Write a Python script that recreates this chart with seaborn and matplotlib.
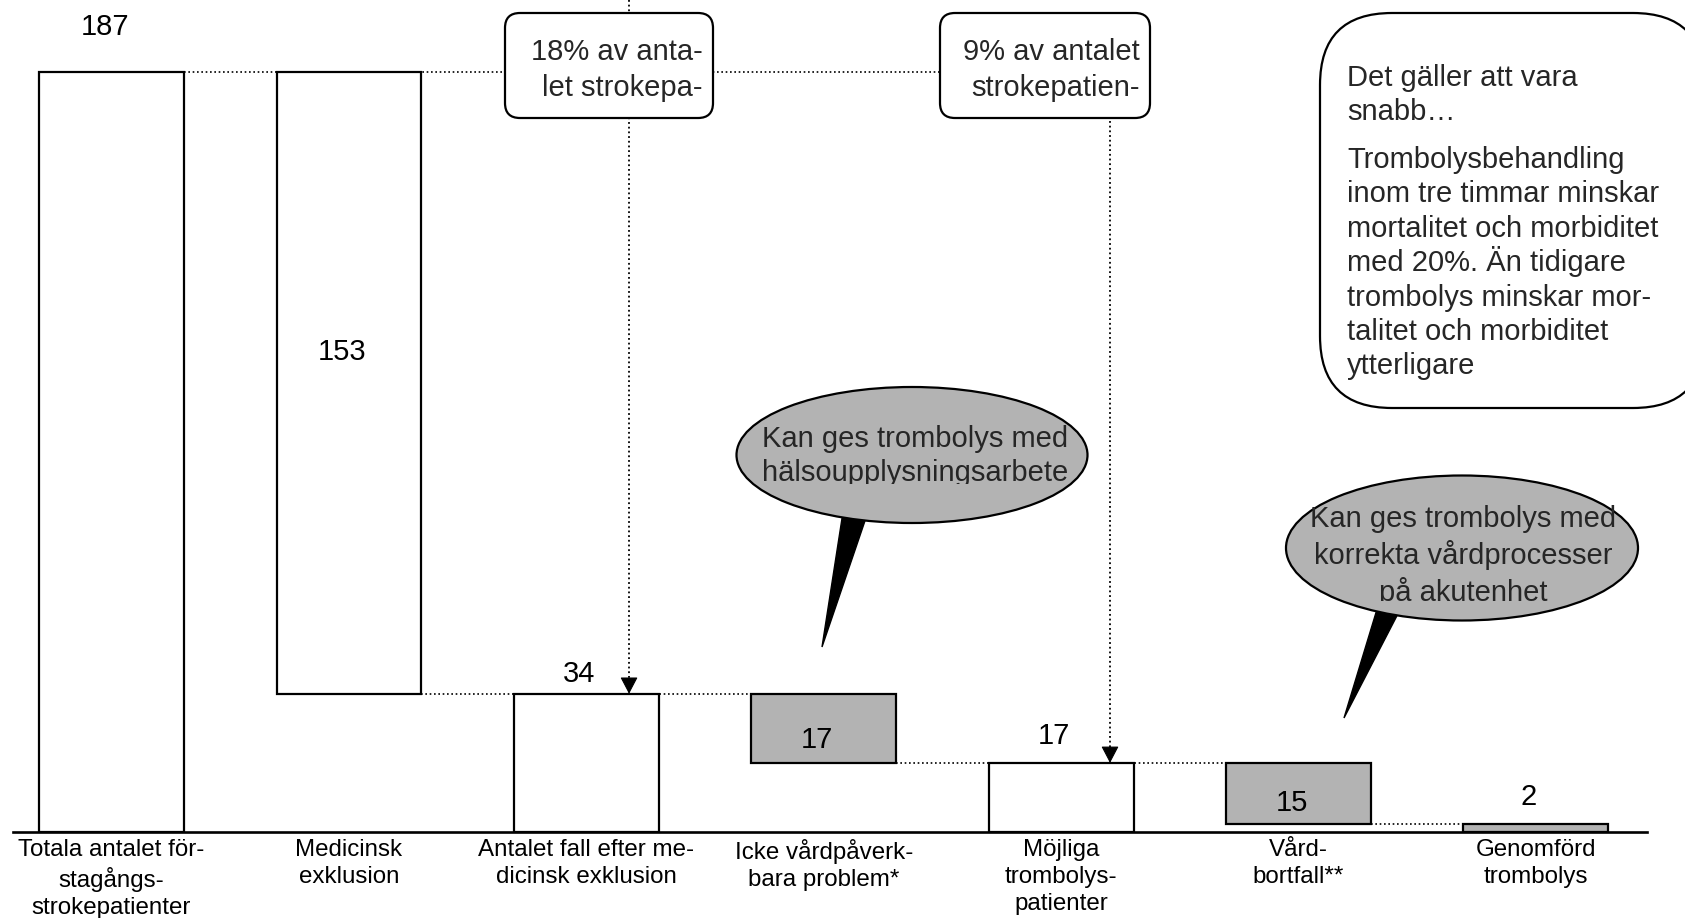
import matplotlib
matplotlib.use("Agg")
import matplotlib.pyplot as plt
import matplotlib.transforms as mtransforms
from matplotlib.patches import FancyBboxPatch, Ellipse, Polygon, Rectangle
import seaborn as sns

# --- data -----------------------------------------------------------------
categories = [
    "Totala antalet för-\nstagångs-\nstrokepatienter",
    "Medicinsk\nexklusion",
    "Antalet fall efter me-\ndicinsk exklusion",
    "Icke vårdpåverk-\nbara problem*",
    "Möjliga\ntrombolys-\npatienter",
    "Vård-\nbortfall**",
    "Genomförd\ntrombolys",
]
values = [187, 153, 34, 17, 17, 15, 2]
bases = [0, 34, 0, 17, 0, 2, 0]
is_loss = [False, False, False, True, False, True, True]

info_heading = ["Det gäller att vara", "snabb…"]
info_body = [
    "Trombolysbehandling",
    "inom tre timmar minskar",
    "mortalitet och morbiditet",
    "med 20%. Än tidigare",
    "trombolys minskar mor-",
    "talitet och morbiditet",
    "ytterligare",
]

# --- style ----------------------------------------------------------------
sns.set_theme(style="white")
plt.rcParams["font.family"] = ["Liberation Sans", "DejaVu Sans"]

W, H, DPI = 1685, 918, 100
GREY = "#b3b3b3"
LABEL_FS = 21
CAT_FS = 17.4
DOT = (0, (1, 1.6))

fig = plt.figure(figsize=(W / DPI, H / DPI), dpi=DPI)
ax = fig.add_axes([13 / W, 86 / H, 1634 / W, 832 / H])

# pixel coordinates measured from the top-left corner of the figure
PX = mtransforms.Affine2D().scale(1 / DPI, -1 / DPI).translate(0, H / DPI) + fig.dpi_scale_trans

# --- waterfall bars -----------------------------------------------------------
sns.barplot(x=categories, y=values, bottom=bases, width=0.61, color="white",
            edgecolor="black", linewidth=1.6, errorbar=None, ax=ax, zorder=2)
for bar, loss in zip(ax.patches, is_loss):
    bar.set_facecolor(GREY if loss else "white")

ymax = 187 * 832 / 760
ax.set_xlim(-0.415, 6.468)
ax.set_ylim(0, ymax)
ax.set_yticks([])
ax.set_xlabel("")
ax.set_ylabel("")
for side in ("left", "top", "right"):
    ax.spines[side].set_visible(False)
ax.spines["bottom"].set_linewidth(1.9)
ax.spines["bottom"].set_color("black")
ax.tick_params(axis="x", length=0, pad=5, labelsize=CAT_FS, colors="black")
for t in ax.get_xticklabels():
    t.set_linespacing(1.3)

# value labels
half = 0.305
tops = [b + v for b, v in zip(bases, values)]
label_inside = [False, True, False, True, False, True, False]
label_dy = [45, -31, 20, 12, 27, 10, 27]
for i, (b, v, inside, dy) in enumerate(zip(bases, values, label_inside, label_dy)):
    if inside:
        ax.annotate(str(v), xy=(i, b + v / 2), xytext=(-5, -dy * 0.72),
                    textcoords="offset points", ha="center", va="center",
                    fontsize=LABEL_FS, color="black", zorder=4)
    else:
        ax.annotate(str(v), xy=(i, b + v), xytext=(-5, dy * 0.72),
                    textcoords="offset points", ha="center", va="center",
                    fontsize=LABEL_FS, color="black", zorder=4)

# dotted connectors between consecutive levels
ax.plot([0 + half, 3.9], [tops[0], tops[0]], ls=DOT, lw=1.2, color="black", zorder=1)
ax.plot([1 + half, 3 - half], [bases[1], bases[1]], ls=DOT, lw=1.2, color="black", zorder=1)
ax.plot([3 + half, 5 - half], [bases[3], bases[3]], ls=DOT, lw=1.2, color="black", zorder=1)
ax.plot([5 + half, 6 - half], [bases[5], bases[5]], ls=DOT, lw=1.2, color="black", zorder=1)

# dotted pointers from the percentage boxes down to the bars
for x, y_from, target in [(2.18, ymax, values[2]), (4.206, 190, values[4])]:
    ax.plot([x, x], [y_from, target], ls=DOT, lw=1.3, color="black", zorder=3,
            clip_on=False)
    ax.annotate("", xy=(x, target), xytext=(0, 11), textcoords="offset points",
                arrowprops=dict(arrowstyle="-|>,head_length=1.05,head_width=0.55",
                                color="black", lw=0.8, shrinkA=0, shrinkB=0,
                                mutation_scale=10), zorder=3)

# --- percentage boxes -----------------------------------------------------------
for (x0, x1, lines) in [(505, 713, "18% av anta-\nlet strokepa-"),
                        (940, 1150, "9% av antalet\nstrokepatien-")]:
    box = FancyBboxPatch((x0, 13), x1 - x0, 105,
                         boxstyle="round,pad=0,rounding_size=15",
                         transform=PX, fc="white", ec="black", lw=1.6,
                         zorder=6, clip_on=False)
    fig.add_artist(box)
    fig.text(x1 - 10, 70, lines, transform=PX, ha="right", va="center",
             multialignment="right", fontsize=LABEL_FS, linespacing=1.33,
             zorder=7)

# --- information box --------------------------------------------------------------
info = FancyBboxPatch((1320, 13), 385, 395, boxstyle="round,pad=0,rounding_size=72",
                      transform=PX, fc="white", ec="black", lw=1.6, zorder=6,
                      clip_on=False)
fig.add_artist(info)
for i, line in enumerate(info_heading):
    fig.text(1347, 86 + 34 * i, line, transform=PX, ha="left", va="baseline",
             fontsize=LABEL_FS, zorder=7)
for i, line in enumerate(info_body):
    fig.text(1347, 168 + 34.4 * i, line, transform=PX, ha="left", va="baseline",
             fontsize=LABEL_FS, zorder=7)

# --- speech bubbles ----------------------------------------------------------------
bubbles = [
    dict(center=(912, 455), size=(351, 136),
         tail=[(843, 512), (868, 512), (822, 647)],
         text="Kan ges trombolys med\nhälsoupplysningsarbete",
         text_xy=(915, 456), clip_bottom=484),
    dict(center=(1462, 548), size=(352, 145),
         tail=[(1378, 606), (1402, 606), (1344, 718)],
         text="Kan ges trombolys med\nkorrekta vårdprocesser\npå akutenhet",
         text_xy=(1463, 556), clip_bottom=601),
]
for bub in bubbles:
    tail = Polygon(bub["tail"], closed=True, transform=PX, fc="black", ec="black",
                   lw=1, zorder=6)
    fig.add_artist(tail)
    ell = Ellipse(bub["center"], bub["size"][0], bub["size"][1], transform=PX,
                  fc=GREY, ec="black", lw=1.6, zorder=6)
    fig.add_artist(ell)
    t = fig.text(bub["text_xy"][0], bub["text_xy"][1], bub["text"], transform=PX,
                 ha="center", va="center", multialignment="center",
                 fontsize=LABEL_FS, linespacing=1.3, zorder=7)
    cx, cy = bub["center"]
    clip = Rectangle((cx - 250, cy - 150), 500, bub["clip_bottom"] - (cy - 150),
                     transform=PX)
    t.set_clip_path(clip)

fig.savefig("out.png", dpi=DPI, facecolor="white")
